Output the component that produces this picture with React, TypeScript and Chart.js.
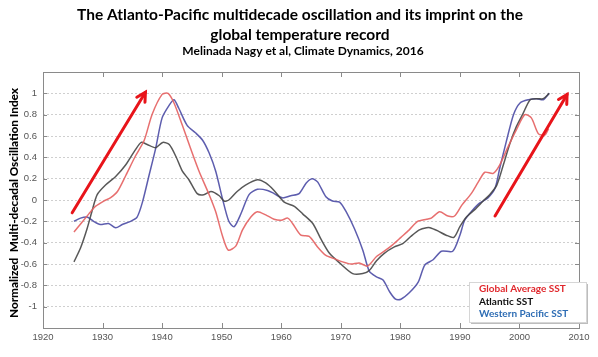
import React, { useEffect, useRef } from "react";
import { Chart, registerables } from "chart.js";
Chart.register(...registerables);

const titleLines = [
  "The Atlanto-Pacific multidecade oscillation and its imprint on the",
  "global temperature record",
];
const subtitleText = "Melinada Nagy et al, Climate Dynamics, 2016";
const yAxisTitle = "Normalized  Multi-decadal Oscillation Index";
const seriesNames = ["Global Average SST", "Atlantic SST", "Western Pacific SST"];

const globalYears = [1925.2, 1927.7, 1928.8, 1930.2, 1931.3, 1932.5, 1933.9, 1935.5, 1937.0, 1938.3, 1940.0, 1941.0, 1942.0, 1943.4, 1944.8, 1946.2, 1947.9, 1949.0, 1950.1, 1951.1, 1952.4, 1953.5, 1954.9, 1956.0, 1957.4, 1958.8, 1960.0, 1961.1, 1961.9, 1963.3, 1964.7, 1966.1, 1967.5, 1968.9, 1970.3, 1971.7, 1973.1, 1974.5, 1976.0, 1977.3, 1978.7, 1980.1, 1981.5, 1982.9, 1984.4, 1985.2, 1986.6, 1988.0, 1989.1, 1990.3, 1991.9, 1993.1, 1994.2, 1995.6, 1996.7, 1998.1, 1999.5, 2000.9, 2002.0, 2003.2, 2004.3, 2004.9];
const globalValues = [-0.30, -0.13, -0.06, -0.01, 0.02, 0.08, 0.23, 0.41, 0.56, 0.80, 0.99, 1.0, 0.91, 0.70, 0.48, 0.27, 0.05, -0.11, -0.33, -0.47, -0.43, -0.28, -0.16, -0.11, -0.14, -0.18, -0.19, -0.17, -0.22, -0.33, -0.34, -0.44, -0.52, -0.55, -0.58, -0.60, -0.59, -0.62, -0.53, -0.48, -0.42, -0.35, -0.28, -0.20, -0.18, -0.17, -0.11, -0.15, -0.15, -0.05, 0.06, 0.17, 0.26, 0.25, 0.33, 0.50, 0.66, 0.80, 0.77, 0.62, 0.61, 0.67];

const atlanticYears = [1925.2, 1926.3, 1927.4, 1928.2, 1929.1, 1930.5, 1932.2, 1933.9, 1935.5, 1936.5, 1937.5, 1938.9, 1940.1, 1941.2, 1942.3, 1943.4, 1944.5, 1945.9, 1947.0, 1948.2, 1949.6, 1950.4, 1951.2, 1952.6, 1954.0, 1956.0, 1957.4, 1958.8, 1960.5, 1962.2, 1963.6, 1965.3, 1966.7, 1968.1, 1969.8, 1972.0, 1973.7, 1974.8, 1976.0, 1977.3, 1979.0, 1980.4, 1981.8, 1983.2, 1984.4, 1985.0, 1986.3, 1987.7, 1989.0, 1990.0, 1991.1, 1992.5, 1993.9, 1995.0, 1996.2, 1997.3, 1998.4, 1999.5, 2000.6, 2001.8, 2002.9, 2004.0, 2005.0];
const atlanticValues = [-0.58, -0.45, -0.27, -0.11, 0.05, 0.14, 0.22, 0.33, 0.47, 0.54, 0.52, 0.49, 0.54, 0.52, 0.41, 0.27, 0.19, 0.06, 0.05, 0.08, 0.04, -0.01, 0.0, 0.08, 0.14, 0.19, 0.16, 0.09, -0.02, -0.06, -0.13, -0.22, -0.37, -0.50, -0.59, -0.69, -0.69, -0.66, -0.57, -0.50, -0.44, -0.41, -0.34, -0.28, -0.26, -0.26, -0.29, -0.33, -0.35, -0.25, -0.16, -0.09, -0.01, 0.05, 0.14, 0.33, 0.53, 0.69, 0.81, 0.94, 0.95, 0.95, 1.0];

const pacificYears = [1925.2, 1926.3, 1927.4, 1928.5, 1929.6, 1931.0, 1932.2, 1933.3, 1934.7, 1935.8, 1936.7, 1937.8, 1938.9, 1940.0, 1941.2, 1942.0, 1942.8, 1944.2, 1945.6, 1946.8, 1947.9, 1949.0, 1950.1, 1951.2, 1952.1, 1953.3, 1954.6, 1956.0, 1957.7, 1958.8, 1960.2, 1961.6, 1963.0, 1964.2, 1965.2, 1966.1, 1967.5, 1968.6, 1969.8, 1970.9, 1972.3, 1973.7, 1974.8, 1976.0, 1977.1, 1978.2, 1979.2, 1980.1, 1981.5, 1983.0, 1984.1, 1985.5, 1986.9, 1988.8, 1990.0, 1990.8, 1991.9, 1993.3, 1994.7, 1995.9, 1996.7, 1997.8, 1999.0, 2000.1, 2001.5, 2002.9, 2004.0, 2005.0];
const pacificValues = [-0.20, -0.17, -0.16, -0.20, -0.23, -0.22, -0.26, -0.23, -0.20, -0.16, -0.02, 0.23, 0.48, 0.77, 0.89, 0.94, 0.86, 0.70, 0.63, 0.56, 0.44, 0.27, 0.02, -0.20, -0.25, -0.12, 0.05, 0.10, 0.09, 0.06, 0.02, 0.04, 0.06, 0.16, 0.20, 0.17, 0.03, -0.01, -0.02, -0.11, -0.27, -0.47, -0.67, -0.72, -0.75, -0.86, -0.93, -0.93, -0.87, -0.77, -0.61, -0.56, -0.48, -0.48, -0.33, -0.19, -0.11, -0.03, 0.02, 0.11, 0.30, 0.55, 0.80, 0.91, 0.94, 0.95, 0.94, 1.0];

// arrows in data space (year, index)
const arrowFromYears = [1924.9, 1995.9];
const arrowFromValues = [-0.12, -0.15];
const arrowToYears = [1937.2, 2008.0];
const arrowToValues = [1.01, 0.99];

const toPoints = (xs: number[], ys: number[]) => xs.map((x, i) => ({ x, y: ys[i] }));

const overlayPlugin = {
  id: "overlay",
  afterDraw(chart: any) {
    const ctx: CanvasRenderingContext2D = chart.ctx;
    const { left, right, top, bottom } = chart.chartArea;
    const xs = chart.scales.x;
    const ys = chart.scales.y;
    ctx.save();

    // plot frame
    ctx.strokeStyle = "#8a8a8a";
    ctx.lineWidth = 1;
    ctx.strokeRect(Math.round(left) + 0.5, Math.round(top) + 0.5, Math.round(right - left), Math.round(bottom - top));

    // inward ticks
    xs.ticks.forEach((t: any) => {
      const px = Math.round(xs.getPixelForValue(t.value)) + 0.5;
      ctx.beginPath();
      ctx.moveTo(px, bottom);
      ctx.lineTo(px, bottom - 5);
      ctx.moveTo(px, top);
      ctx.lineTo(px, top + 5);
      ctx.stroke();
    });
    ys.ticks.forEach((t: any) => {
      if (Math.abs(t.value) > 1.001) return;
      const py = Math.round(ys.getPixelForValue(t.value)) + 0.5;
      ctx.beginPath();
      ctx.moveTo(left, py);
      ctx.lineTo(left + 4, py);
      ctx.moveTo(right, py);
      ctx.lineTo(right - 4, py);
      ctx.stroke();
    });

    // arrows
    ctx.strokeStyle = "#e8141a";
    ctx.lineWidth = 3;
    ctx.lineCap = "round";
    for (let i = 0; i < arrowFromYears.length; i++) {
      const x1 = xs.getPixelForValue(arrowFromYears[i]);
      const y1 = ys.getPixelForValue(arrowFromValues[i]);
      const x2 = xs.getPixelForValue(arrowToYears[i]);
      const y2 = ys.getPixelForValue(arrowToValues[i]);
      const ang = Math.atan2(y2 - y1, x2 - x1);
      ctx.beginPath();
      ctx.moveTo(x1, y1);
      ctx.lineTo(x2, y2);
      ctx.stroke();
      const hl = 10;
      ctx.beginPath();
      ctx.moveTo(x2 - hl * Math.cos(ang - 0.5), y2 - hl * Math.sin(ang - 0.5));
      ctx.lineTo(x2, y2);
      ctx.lineTo(x2 - hl * Math.cos(ang + 0.5), y2 - hl * Math.sin(ang + 0.5));
      ctx.stroke();
    }

    // legend box
    ctx.lineCap = "butt";
    const bx = 469, by = 282, bw = 117, bh = 40;
    ctx.fillStyle = "#bdbdbd";
    ctx.fillRect(bx + 2, by + 2, bw, bh);
    ctx.fillStyle = "#ffffff";
    ctx.fillRect(bx, by, bw, bh);
    ctx.strokeStyle = "#d6d6d6";
    ctx.lineWidth = 1;
    ctx.strokeRect(bx + 0.5, by + 0.5, bw, bh);
    const legendColors = ["#e0282d", "#111111", "#2e6db4"];
    ctx.font = "bold 10px Lato, 'Open Sans', sans-serif";
    ctx.textAlign = "left";
    ctx.textBaseline = "middle";
    seriesNames.forEach((n, i) => {
      ctx.fillStyle = legendColors[i];
      ctx.fillText(n, 479, 289 + i * 12.5);
    });

    // titles
    ctx.fillStyle = "#000";
    ctx.textAlign = "center";
    ctx.font = "bold 15.5px Lato, 'Open Sans', sans-serif";
    ctx.fillText(titleLines[0], 300, 15);
    ctx.fillText(titleLines[1], 300, 35);
    ctx.font = "bold 12px Lato, 'Open Sans', sans-serif";
    ctx.fillText(subtitleText, 303, 51);

    // y axis title (condensed bold)
    ctx.save();
    ctx.translate(14, 203);
    ctx.rotate(-Math.PI / 2);
    ctx.font = "900 12px Lato, sans-serif";
    const w = ctx.measureText(yAxisTitle).width;
    ctx.scale(230 / w, 1);
    ctx.fillStyle = "#000";
    ctx.fillText(yAxisTitle, 0, 0);
    ctx.restore();

    ctx.restore();
  },
};

export default function App() {
  const ref = useRef<HTMLCanvasElement>(null);
  useEffect(() => {
    const chart = new Chart(ref.current as HTMLCanvasElement, {
      type: "line",
      data: {
        datasets: [
          {
            label: seriesNames[0],
            data: toPoints(globalYears, globalValues),
            borderColor: "rgba(228,95,95,0.9)",
            borderWidth: 1.5,
            pointRadius: 0,
            tension: 0.25,
          },
          {
            label: seriesNames[1],
            data: toPoints(atlanticYears, atlanticValues),
            borderColor: "rgba(70,70,70,0.9)",
            borderWidth: 1.5,
            pointRadius: 0,
            tension: 0.25,
          },
          {
            label: seriesNames[2],
            data: toPoints(pacificYears, pacificValues),
            borderColor: "rgba(75,75,165,0.9)",
            borderWidth: 1.5,
            pointRadius: 0,
            tension: 0.25,
          },
        ],
      },
      options: {
        responsive: false,
        animation: false,
        devicePixelRatio: 1,
        layout: { padding: { left: 0, top: 72, right: 19, bottom: 0 } },
        plugins: { legend: { display: false }, tooltip: { enabled: false }, title: { display: false } },
        scales: {
          x: {
            type: "linear",
            min: 1920,
            max: 2010,
            afterFit: (s: any) => { s.height = 29; },
            ticks: {
              stepSize: 10,
              color: "#555",
              padding: 4,
              maxRotation: 0,
              font: { family: "'Liberation Sans', Arial, sans-serif", size: 9.5 },
              callback: (v: any) => String(v),
            },
            grid: { display: false, drawTicks: false },
            border: { display: false },
          },
          y: {
            type: "linear",
            min: -1.2,
            max: 1.2,
            afterFit: (s: any) => { s.width = 43; },
            ticks: {
              stepSize: 0.2,
              color: "#555",
              padding: 6,
              font: { family: "'Liberation Sans', Arial, sans-serif", size: 9.5 },
              callback: (v: any) => {
                const n = Math.round(Number(v) * 10) / 10;
                if (Math.abs(n) > 1.001) return "";
                return String(n);
              },
            },
            grid: {
              drawTicks: false,
              color: (c: any) => (Math.abs(c.tick.value) > 1.001 ? "rgba(0,0,0,0)" : "#cfcfcf"),
            },
            border: { display: false, dash: [2, 2] },
          },
        },
      },
      plugins: [overlayPlugin],
    } as any);
    return () => chart.destroy();
  }, []);
  return (
    <div style={{ position: "fixed", left: 0, top: 0, width: 598, height: 357, background: "#fff" }}>
      <canvas ref={ref} width={598} height={357} style={{ display: "block" }} />
    </div>
  );
}
